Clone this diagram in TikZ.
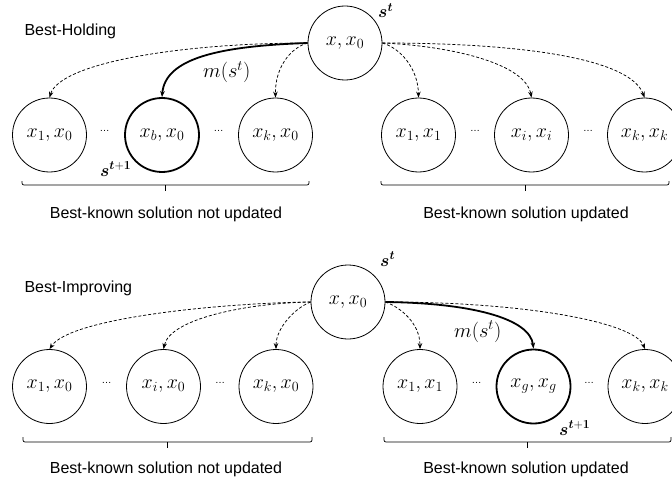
\RequirePackage{fix-cm}
\documentclass[tikz,border=0pt]{standalone}
\usepackage{amsmath}
\usepackage{fontspec}
\setmainfont{Liberation Sans}
\usetikzlibrary{arrows.meta}
\newcommand{\bs}{\boldsymbol{s}}
\newcommand{\bt}{\boldsymbol{t}}
\begin{document}
\begin{tikzpicture}[x=1pt,y=1pt,
  state/.style={circle,draw,line width=0.8pt,minimum size=74pt,inner sep=0pt,font=\fontsize{20}{24}\selectfont},
  chosen/.style={state,line width=1.8pt},
  cand/.style={-{Stealth[length=6pt,width=4.5pt]},line width=0.75pt,dash pattern=on 3pt off 2pt},
  move/.style={-{Stealth[length=6pt,width=4.5pt]},line width=1.8pt},
  dots/.style={font=\fontsize{10}{12}\selectfont},
  ttl/.style={anchor=base west,font=\fontsize{16}{19}\selectfont},
  lbl/.style={anchor=base,font=\fontsize{16}{19}\selectfont},
  mlbl/.style={anchor=base west,inner sep=0pt,font=\fontsize{20.5}{24}\selectfont},
  slbl/.style={anchor=base west,inner sep=0pt,font=\fontsize{17.5}{21}\selectfont},
  bracket/.style={line width=0.7pt,rounded corners=2pt}
]
\useasboundingbox (0,0) rectangle (672,483);

% ---------------- Best-Holding ----------------
\node[ttl] (t1) at (21,447) {Best-Holding};
\node[state] (T1) at (345,440) {$x, x_0$};
\node[slbl] (st1) at (378,465.5) {$\bs^{\bt}$};
\node[state] (A1) at (49.5,348) {$x_1, x_0$};
\node[chosen] (A2) at (162,348) {$x_b, x_0$};
\node[state] (A3) at (275.5,348) {$x_k, x_0$};
\node[state] (A4) at (418.5,348) {$x_1, x_1$};
\node[state] (A5) at (531.5,348) {$x_i, x_i$};
\node[state] (A6) at (644.5,348) {$x_k, x_k$};
\node[dots] (d1) at (104.5,352) {…};
\node[dots] (d2) at (218.5,352) {…};
\node[dots] (d3) at (475,352) {…};
\node[dots] (d4) at (588,352) {…};
\node[mlbl] (m1) at (203,405) {$m(s^{t})$};
\node[slbl] (sn1) at (100,307) {$\bs^{\bt+\boldsymbol{1}}$};

\draw[cand] (T1.west) .. controls (180,440) and (60,420) .. (A1.north);
\draw[move] (T1.west) .. controls (220,437) and (165,425) .. (A2.north);
\draw[cand] (T1.west) .. controls (290,435) and (275,415) .. (A3.north);
\draw[cand] (T1.east) .. controls (400,435) and (418,415) .. (A4.north);
\draw[cand] (T1.east) .. controls (450,437) and (525,420) .. (A5.north);
\draw[cand] (T1.east) .. controls (520,440) and (630,425) .. (A6.north);

\coordinate (b1l) at (22,302);
\coordinate (b1r) at (309,302);
\coordinate (b1m) at (165.5,298);
\coordinate (b1t) at (165.5,292);
\draw[bracket] (b1l) |- (b1m) -| (b1r);
\draw[line width=0.7pt] (b1m) -- (b1t);
\coordinate (b2l) at (381,302);
\coordinate (b2r) at (669,302);
\coordinate (b2m) at (525,298);
\coordinate (b2t) at (525,292);
\draw[bracket] (b2l) |- (b2m) -| (b2r);
\draw[line width=0.7pt] (b2m) -- (b2t);
\node[lbl] (L1) at (166,265) {Best-known solution not updated};
\node[lbl] (L2) at (526,265) {Best-known solution updated};

% ---------------- Best-Improving ----------------
\node[ttl] (t2) at (21,191) {Best-Improving};
\node[state] (T2) at (348,181) {$x, x_0$};
\node[slbl] (st2) at (380,217) {$\bs^{\bt}$};
\node[state] (B1) at (49.5,96.5) {$x_1, x_0$};
\node[state] (B2) at (163.5,96.5) {$x_i, x_0$};
\node[state] (B3) at (276,96.5) {$x_k, x_0$};
\node[state] (B4) at (420,96.5) {$x_1, x_1$};
\node[chosen] (B5) at (533.5,96.5) {$x_g, x_g$};
\node[state] (B6) at (645,96.5) {$x_k, x_k$};
\node[dots] (e1) at (106.5,100.5) {…};
\node[dots] (e2) at (220,100.5) {…};
\node[dots] (e3) at (476.5,100.5) {…};
\node[dots] (e4) at (589,100.5) {…};
\node[mlbl] (m2) at (454,146) {$m(s^{t})$};
\node[slbl] (sn2) at (559,48) {$\bs^{\bt+\boldsymbol{1}}$};

\draw[cand] (T2.west) .. controls (220,180) and (70,165) .. (B1.north);
\draw[cand] (T2.west) .. controls (250,180) and (170,165) .. (B2.north);
\draw[cand] (T2.west) .. controls (295,175) and (276,155) .. (B3.north);
\draw[cand] (T2.east) .. controls (400,176) and (420,160) .. (B4.north);
\draw[move] (T2.east) .. controls (470,180) and (530,165) .. (B5.north);
\draw[cand] (T2.east) .. controls (530,181) and (635,160) .. (B6.north);

\coordinate (c1l) at (23,46);
\coordinate (c1r) at (312,46);
\coordinate (c1m) at (167,41);
\coordinate (c1t) at (167,35);
\draw[bracket] (c1l) |- (c1m) -| (c1r);
\draw[line width=0.7pt] (c1m) -- (c1t);
\coordinate (c2l) at (384,46);
\coordinate (c2r) at (671,46);
\coordinate (c2m) at (527,41);
\coordinate (c2t) at (527,35);
\draw[bracket] (c2l) |- (c2m) -| (c2r);
\draw[line width=0.7pt] (c2m) -- (c2t);
\node[lbl] (L3) at (166,10) {Best-known solution not updated};
\node[lbl] (L4) at (526,10) {Best-known solution updated};
\end{tikzpicture}
\end{document}
